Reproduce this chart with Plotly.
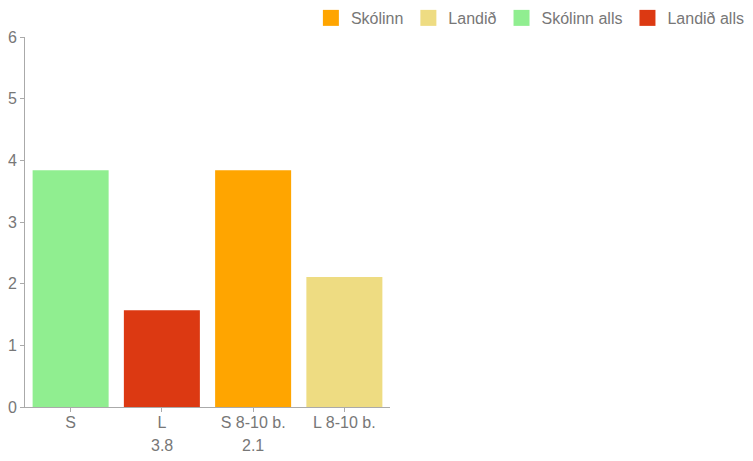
import plotly.graph_objects as go

categories = ["S", "L", "S 8-10 b.", "L 8-10 b."]
series_names = ["Skólinn", "Landið", "Skólinn alls", "Landið alls"]
series_cats = ["S 8-10 b.", "L 8-10 b.", "S", "L"]
series_values = [3.84, 2.11, 3.84, 1.57]
series_colors = ["#FFA500", "#EEDC82", "#90EE90", "#DC3912"]
extra_labels = ["", "3.8", "2.1", ""]

TXT = "#777777"
fig = go.Figure()
for name, cat, val, col in zip(series_names, series_cats, series_values, series_colors):
    fig.add_trace(go.Bar(name=name, x=[cat], y=[val], marker=dict(color=col, line=dict(width=0)),
                         hoverinfo="x+y", legendgroup=name, showlegend=False))
for name, col in zip(series_names, series_colors):
    fig.add_trace(go.Scatter(name=name, x=[None], y=[None], mode="markers", legendgroup=name,
                             marker=dict(symbol="square", size=18, color=col, line=dict(width=0))))

for cat, lab in zip(categories, extra_labels):
    if lab:
        fig.add_annotation(x=cat, y=0, xref="x", yref="paper", yshift=-38, yanchor="middle",
                           text=lab, showarrow=False, font=dict(size=16, color=TXT))

fig.update_layout(
    width=745, height=453,
    margin=dict(l=17, r=363, t=29, b=54, autoexpand=False),
    paper_bgcolor="white", plot_bgcolor="white",
    barmode="overlay", bargap=0.167,
    font=dict(family="Liberation Sans, Arial, sans-serif", size=16, color=TXT),
    legend=dict(orientation="h", x=1.986, y=1.0514, xanchor="right", yanchor="middle",
                font=dict(size=16, color=TXT), traceorder="normal", itemsizing="trace"),
    showlegend=True,
)
fig.update_xaxes(categoryorder="array", categoryarray=categories, showline=True, linecolor="#aaaaaa",
                 ticks="outside", ticklen=4, tickcolor="#aaaaaa", showgrid=False, zeroline=False,
                 range=[-0.5, 3.5], automargin=False, ticklabelstandoff=-3)
fig.update_yaxes(range=[0, 6], dtick=1, showline=True, linecolor="#aaaaaa", ticks="outside",
                 ticklen=4, tickcolor="#aaaaaa", showgrid=False, zeroline=False, automargin=False)

fig.write_html("out.html")
